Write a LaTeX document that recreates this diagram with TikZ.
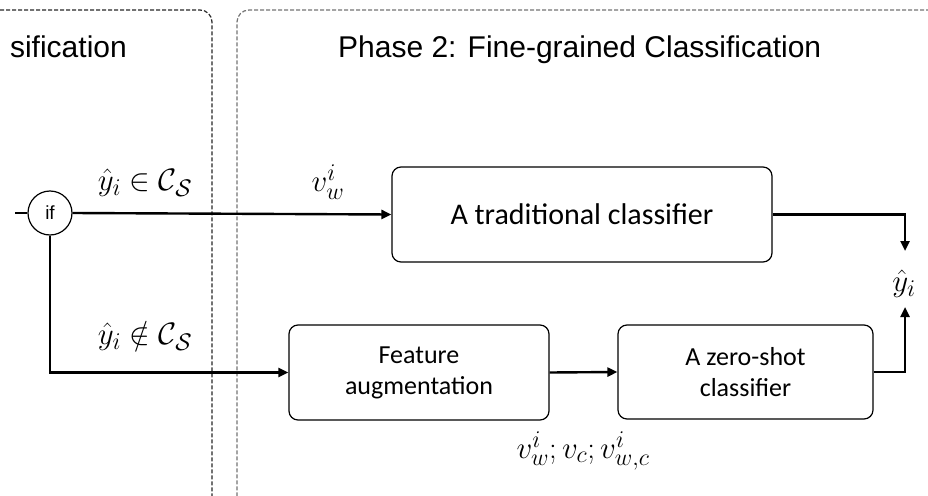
\RequirePackage{fix-cm}
\documentclass[tikz,border=0pt]{standalone}
\usepackage{fontspec}
\setmainfont{Carlito}
\newfontfamily\arialf{Liberation Sans}
\DeclareMathSizes{31}{31}{24}{19}
\usetikzlibrary{arrows.meta}
\begin{document}
\begin{tikzpicture}[x=1pt,y=-1pt,
  box/.style={draw, rounded corners=9pt, line width=1.2pt, inner sep=0pt, align=center},
  flow/.style={line width=2.4pt, -{Triangle[length=10pt,width=9pt]}},
  plain/.style={line width=2.4pt},
  panelA/.style={draw=black!85, line width=1.2pt, dash pattern=on 4pt off 2pt, rounded corners=12pt},
  panelB/.style={draw=black!55, line width=1.2pt, dash pattern=on 4pt off 2pt, rounded corners=12pt},
  mlab/.style={inner sep=0pt, font=\fontsize{31}{33}\selectfont},
  title/.style={inner sep=0pt, font=\arialf\fontsize{30}{34}\selectfont}]
\clip (0,0) rectangle (928,495);
\useasboundingbox (0,0) rectangle (928,495);
% panels
\draw[panelA] (-30,10) -- (212,10) -- (212,510) -- (-30,510);
\draw[panelB] (960,10) -- (237,10) -- (237,510) -- (960,510);
\node[title, anchor=base east] (t1) at (127,57) {sification};
\node[title, anchor=base west] (t2) at (338,57) {Phase 2: Fine-grained Classification};
% nodes
\node[draw, circle, line width=1.2pt, minimum size=44pt, inner sep=0pt, font=\arialf\fontsize{19}{20}\selectfont] (ifc) at (50,213) {if};
\node[box, minimum width=380pt, minimum height=95pt, font=\fontsize{30}{34}\selectfont] (trad) at (582,214.5) {A traditional classifier};
\node[box, minimum width=260pt, minimum height=95pt, font=\fontsize{26}{31}\selectfont] (feat) at (419,372.5) {Feature\\augmentation};
\node[box, minimum width=255pt, minimum height=94pt, font=\fontsize{26}{31}\selectfont] (zero) at (745.5,372) {A zero-shot\\classifier};
\node[mlab] (yhat) at (904,284) {$\hat{y}_i$};
\coordinate (start) at (15,213);
\coordinate (ytop) at (905,251);
\coordinate (ybot) at (905,307);
% labels
\node[mlab] (l1) at (145,183) {$\hat{y}_i \in \mathcal{C}_{\mathcal{S}}$};
\node[mlab] (l2) at (145,336) {$\hat{y}_i \notin \mathcal{C}_{\mathcal{S}}$};
\node[mlab] (l3) at (328,182) {$v_w^i$};
\node[mlab] (l4) at (583,451) {$v_w^i; v_c; v_{w,c}^i$};
% connectors
\draw[plain] (start) -- (ifc.west);
\draw[flow] (ifc.east) -- (trad.west);
\draw[flow] (ifc.south) |- (feat.west);
\draw[flow] (feat.east) -- (zero.west);
\draw[flow] (trad.east) -| (ytop);
\draw[flow] (zero.east) -| (ybot);
\end{tikzpicture}
\end{document}
